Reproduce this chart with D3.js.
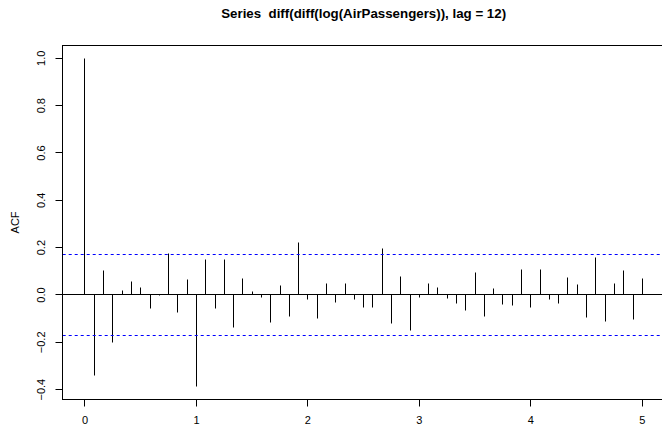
<!DOCTYPE html>
<html>
<head>
<meta charset="utf-8">
<script src="https://cdn.jsdelivr.net/npm/d3@7"></script>
<style>
  body { margin: 0; background: #fff; }
  svg { display: block; font-family: "Liberation Sans", Arial, sans-serif; }
</style>
</head>
<body>
<div id="chart"></div>
<script>
'use strict';

// ACF of diff(diff(log(AirPassengers)), lag = 12), lags 0..60 (in years, frequency 12)
const acfValues = [
    1.000, -0.341, 0.105, -0.202, 0.021, 0.056, 0.031, -0.056, -0.001, 0.176,
    -0.076, 0.064, -0.387, 0.152, -0.058, 0.150, -0.139, 0.070, 0.016, -0.011,
    -0.117, 0.039, -0.091, 0.223, -0.018, -0.100, 0.049, -0.030, 0.047, -0.018,
    -0.051, -0.054, 0.196, -0.122, 0.078, -0.152, -0.010, 0.047, 0.031, -0.015,
    -0.034, -0.066, 0.095, -0.091, 0.029, -0.040, -0.044, 0.107, -0.052, 0.106,
    -0.021, -0.035, 0.073, 0.043, -0.096, 0.157, -0.110, 0.047, 0.105, -0.104,
    0.071
];
const lags = acfValues.map((_, i) => i / 12);
const nObs = 131;
const ciBound = 1.96 / Math.sqrt(nObs);

const xTicks = [0, 1, 2, 3, 4, 5];
const yTicks = [-0.4, -0.2, 0.0, 0.2, 0.4, 0.6, 0.8, 1.0];

const width = 662, height = 426;
const plot = { left: 62.7, right: 664.6, top: 45.2, bottom: 399.7 };

const svg = d3.select("#chart").append("svg")
    .attr("width", width)
    .attr("height", height);

// R pads the data range by 4% on each side
const xExt = [0, 5];
const xPad = (xExt[1] - xExt[0]) * 0.04;
const x = d3.scaleLinear()
    .domain([xExt[0] - xPad, xExt[1] + xPad])
    .range([plot.left, plot.right]);

const yExt = d3.extent(acfValues);
const yPad = (yExt[1] - yExt[0]) * 0.04;
const y = d3.scaleLinear()
    .domain([yExt[0] - yPad, yExt[1] + yPad])
    .range([plot.bottom, plot.top]);

// snap to pixel centres so 1px lines stay sharp
const px = v => Math.round(v - 0.5) + 0.5;

// spikes
svg.append("g")
    .selectAll("line")
    .data(acfValues)
    .join("line")
    .attr("x1", (d, i) => px(x(lags[i])))
    .attr("x2", (d, i) => px(x(lags[i])))
    .attr("y1", px(y(0)))
    .attr("y2", d => px(y(d)))
    .attr("stroke", "#000")
    .attr("stroke-width", 1);

// zero line
svg.append("line")
    .attr("x1", plot.left).attr("x2", plot.right)
    .attr("y1", px(y(0))).attr("y2", px(y(0)))
    .attr("stroke", "#000").attr("stroke-width", 1);

// confidence bounds
svg.append("g")
    .selectAll("line")
    .data([ciBound, -ciBound])
    .join("line")
    .attr("x1", plot.left).attr("x2", plot.right)
    .attr("y1", d => y(d)).attr("y2", d => y(d))
    .style("stroke", "#0000ff")
    .style("stroke-width", 1.1)
    .style("stroke-dasharray", "3 3");

// box
svg.append("rect")
    .attr("x", px(plot.left)).attr("y", px(plot.top))
    .attr("width", px(plot.right) - px(plot.left))
    .attr("height", px(plot.bottom) - px(plot.top))
    .attr("fill", "none")
    .attr("stroke", "#000")
    .attr("stroke-width", 1);

// x axis (R style: line spans first to last tick)
const xAxis = svg.append("g");
xAxis.append("line")
    .attr("x1", px(x(xTicks[0]))).attr("x2", px(x(xTicks[xTicks.length - 1])))
    .attr("y1", px(plot.bottom)).attr("y2", px(plot.bottom))
    .attr("stroke", "#000");
xAxis.selectAll("line.tick")
    .data(xTicks)
    .join("line")
    .attr("class", "tick")
    .attr("x1", d => px(x(d))).attr("x2", d => px(x(d)))
    .attr("y1", px(plot.bottom)).attr("y2", px(plot.bottom) + 7)
    .attr("stroke", "#000");
xAxis.selectAll("text")
    .data(xTicks)
    .join("text")
    .attr("x", d => x(d))
    .attr("y", plot.bottom + 24.5)
    .attr("text-anchor", "middle")
    .attr("font-size", 11)
    .text(d => d);

// y axis
const yAxis = svg.append("g");
yAxis.append("line")
    .attr("x1", px(plot.left)).attr("x2", px(plot.left))
    .attr("y1", px(y(yTicks[0]))).attr("y2", px(y(yTicks[yTicks.length - 1])))
    .attr("stroke", "#000");
yAxis.selectAll("line.tick")
    .data(yTicks)
    .join("line")
    .attr("class", "tick")
    .attr("x1", px(plot.left) - 7).attr("x2", px(plot.left))
    .attr("y1", d => px(y(d))).attr("y2", d => px(y(d)))
    .attr("stroke", "#000");
yAxis.selectAll("text")
    .data(yTicks)
    .join("text")
    .attr("transform", d => `translate(${plot.left - 18},${y(d)}) rotate(-90)`)
    .attr("text-anchor", "middle")
    .attr("font-size", 11)
    .text(d => d3.format(".1f")(d).replace("-", "\u2212"));

// labels
svg.append("text")
    .attr("transform", `translate(${19},${(plot.top + plot.bottom) / 2}) rotate(-90)`)
    .attr("text-anchor", "middle")
    .attr("font-size", 11)
    .text("ACF");

svg.append("text")
    .attr("x", (plot.left + plot.right) / 2)
    .attr("y", 18)
    .attr("text-anchor", "middle")
    .attr("font-size", 13.3)
    .attr("font-weight", "bold")
    .attr("xml:space", "preserve")
    .style("white-space", "pre")
    .text("Series  diff(diff(log(AirPassengers)), lag = 12)");
</script>
</body>
</html>
